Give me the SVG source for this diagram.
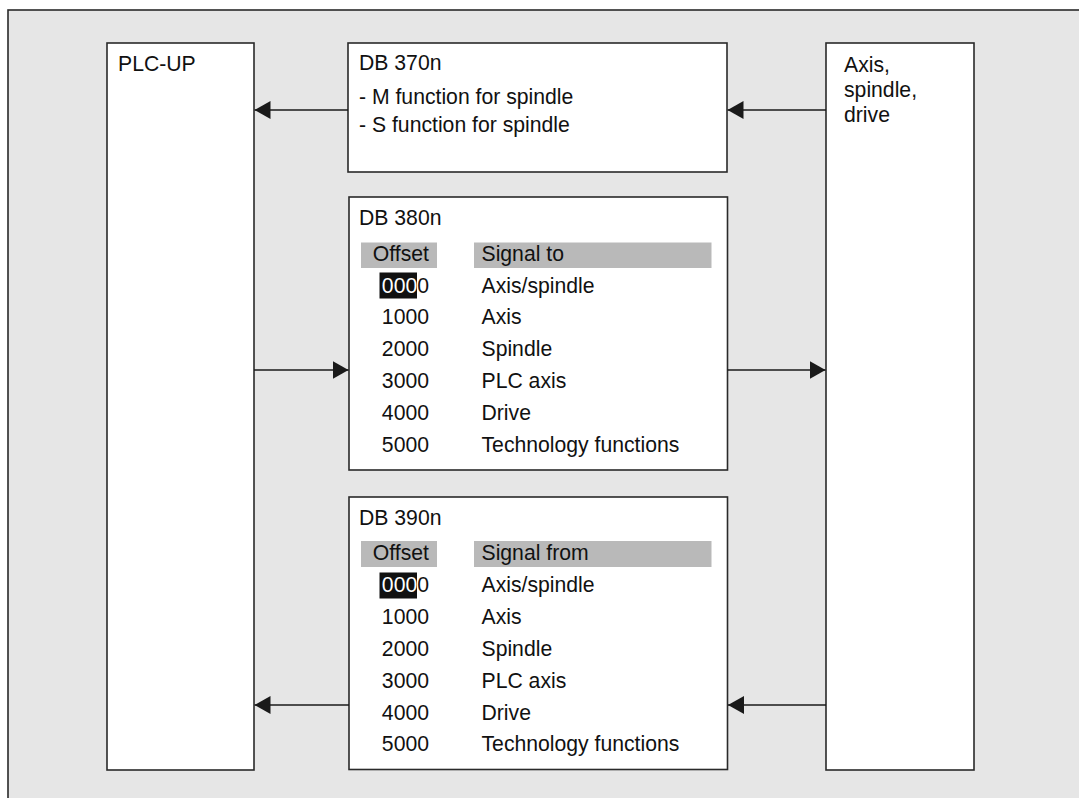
<svg xmlns="http://www.w3.org/2000/svg" width="1079" height="798" viewBox="0 0 1079 798">
<defs>
<marker id="ah" viewBox="0 0 16 18" refX="16" refY="9" markerWidth="16" markerHeight="18" markerUnits="userSpaceOnUse" orient="auto">
<path d="M0,0 L16,9 L0,18 Z" fill="#1a1a1a"/>
</marker>
</defs>
<style>
.box{fill:#fff;stroke:#2a2a2a;stroke-width:1.6}
.t{font-family:"Liberation Sans",Arial,sans-serif;font-size:21.2px;fill:#111}
.r{text-anchor:end}
.hdr{fill:#b9b9b9}
.hl{fill:#111}
.w{fill:#fff}
.c{stroke:#1a1a1a;stroke-width:1.6;fill:none;marker-end:url(#ah)}
</style>
<rect x="0" y="0" width="1079" height="798" fill="#fff"/>
<rect x="8" y="10" width="1090" height="800" fill="#e6e6e6" stroke="#2a2a2a" stroke-width="1.6"/>

<g id="plc-up">
<rect class="box" x="107" y="43" width="147" height="727"/>
<text class="t" x="118" y="71">PLC-UP</text>
</g>

<g id="axis-spindle-drive">
<rect class="box" x="826" y="43" width="148" height="727"/>
<text class="t" x="844" y="71.5">Axis,</text>
<text class="t" x="844" y="97">spindle,</text>
<text class="t" x="844" y="122">drive</text>
</g>

<g id="db370n">
<rect class="box" x="348" y="43" width="379" height="129"/>
<text class="t" x="359" y="70">DB 370n</text>
<text class="t" x="359" y="104">- M function for spindle</text>
<text class="t" x="359" y="131.5">- S function for spindle</text>
</g>

<g id="db380n">
<rect class="box" x="349" y="197" width="378.5" height="273"/>
<text class="t" x="359" y="224.5">DB 380n</text>
<rect class="hdr" x="361" y="242.5" width="76" height="25.5"/>
<rect class="hdr" x="474" y="242.5" width="237.5" height="25.5"/>
<text class="t r" x="429" y="261">Offset</text>
<text class="t" x="481.5" y="261">Signal to</text>
<rect class="hl" x="379.5" y="272.5" width="37.5" height="26"/>
<text class="t r" x="429" y="292.5"><tspan class="w">000</tspan>0</text>
<text class="t" x="481.5" y="292.5">Axis/spindle</text>
<text class="t r" x="429" y="324">1000</text>
<text class="t" x="481.5" y="324">Axis</text>
<text class="t r" x="429" y="356">2000</text>
<text class="t" x="481.5" y="356">Spindle</text>
<text class="t r" x="429" y="388">3000</text>
<text class="t" x="481.5" y="388">PLC axis</text>
<text class="t r" x="429" y="419.5">4000</text>
<text class="t" x="481.5" y="419.5">Drive</text>
<text class="t r" x="429" y="451.5">5000</text>
<text class="t" x="481.5" y="451.5">Technology functions</text>
</g>

<g id="db390n">
<rect class="box" x="349" y="497" width="378.5" height="272.5"/>
<text class="t" x="359" y="524.5">DB 390n</text>
<rect class="hdr" x="361" y="541" width="76" height="26"/>
<rect class="hdr" x="474" y="541" width="237.5" height="26"/>
<text class="t r" x="429" y="560">Offset</text>
<text class="t" x="481.5" y="560">Signal from</text>
<rect class="hl" x="379.5" y="572.5" width="37.5" height="26"/>
<text class="t r" x="429" y="592"><tspan class="w">000</tspan>0</text>
<text class="t" x="481.5" y="592">Axis/spindle</text>
<text class="t r" x="429" y="623.5">1000</text>
<text class="t" x="481.5" y="623.5">Axis</text>
<text class="t r" x="429" y="655.5">2000</text>
<text class="t" x="481.5" y="655.5">Spindle</text>
<text class="t r" x="429" y="687.5">3000</text>
<text class="t" x="481.5" y="687.5">PLC axis</text>
<text class="t r" x="429" y="719.5">4000</text>
<text class="t" x="481.5" y="719.5">Drive</text>
<text class="t r" x="429" y="751">5000</text>
<text class="t" x="481.5" y="751">Technology functions</text>
</g>

<g id="connectors">
<line class="c" x1="348" y1="110" x2="254.5" y2="110"/>
<line class="c" x1="826" y1="110" x2="727.5" y2="110"/>
<line class="c" x1="254" y1="370" x2="348.5" y2="370"/>
<line class="c" x1="727.5" y1="370" x2="825.5" y2="370"/>
<line class="c" x1="349" y1="705" x2="254.5" y2="705"/>
<line class="c" x1="826" y1="705" x2="728" y2="705"/>
</g>
</svg>
